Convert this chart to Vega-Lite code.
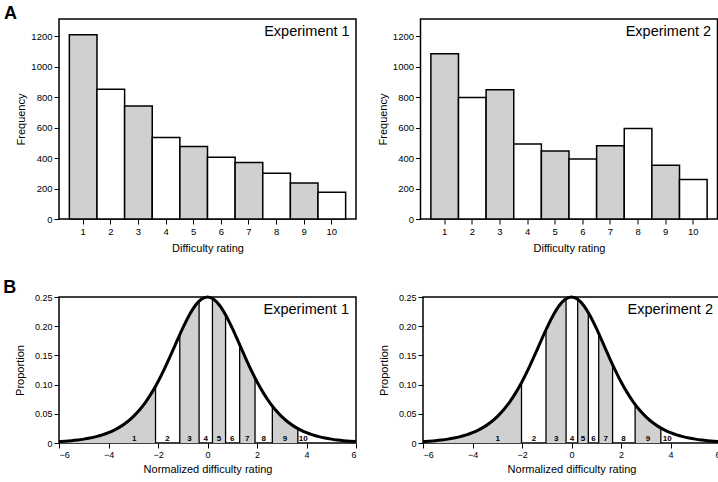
{
  "$schema": "https://vega.github.io/schema/vega-lite/v6.json",
  "padding": {"left": 3, "top": 5, "right": 0, "bottom": 0},
  "spacing": 24,
  "config": {
    "font": "Liberation Sans",
    "view": {"stroke": "black", "strokeWidth": 1.5},
    "axis": {"domain": false, "grid": false, "labelOverlap": false, "tickColor": "black", "tickSize": 5, "tickWidth": 1, "labelColor": "black", "labelFont": "Liberation Sans", "labelFontSize": 9, "labelPadding": 2, "titleFont": "Liberation Sans", "titleFontSize": 11, "titleFontWeight": "normal", "titleColor": "black"},
    "title": {"font": "Liberation Sans", "fontSize": 18, "fontWeight": "bold", "anchor": "start", "color": "black"}
  },
  "datasets": {
    "hist": [
      {"exp": "Experiment 1", "rating": 1, "freq": 1211},
      {"exp": "Experiment 1", "rating": 2, "freq": 853},
      {"exp": "Experiment 1", "rating": 3, "freq": 743},
      {"exp": "Experiment 1", "rating": 4, "freq": 535},
      {"exp": "Experiment 1", "rating": 5, "freq": 476},
      {"exp": "Experiment 1", "rating": 6, "freq": 406},
      {"exp": "Experiment 1", "rating": 7, "freq": 371},
      {"exp": "Experiment 1", "rating": 8, "freq": 300},
      {"exp": "Experiment 1", "rating": 9, "freq": 237},
      {"exp": "Experiment 1", "rating": 10, "freq": 175},
      {"exp": "Experiment 2", "rating": 1, "freq": 1086},
      {"exp": "Experiment 2", "rating": 2, "freq": 798},
      {"exp": "Experiment 2", "rating": 3, "freq": 849},
      {"exp": "Experiment 2", "rating": 4, "freq": 493},
      {"exp": "Experiment 2", "rating": 5, "freq": 447},
      {"exp": "Experiment 2", "rating": 6, "freq": 395},
      {"exp": "Experiment 2", "rating": 7, "freq": 482},
      {"exp": "Experiment 2", "rating": 8, "freq": 594},
      {"exp": "Experiment 2", "rating": 9, "freq": 353},
      {"exp": "Experiment 2", "rating": 10, "freq": 259}
    ],
    "panels": [{"exp": "Experiment 1"}, {"exp": "Experiment 2"}],
    "curve": [
      {"x": -6, "y": 0.002467}, {"x": -5.75, "y": 0.003163}, {"x": -5.5, "y": 0.004054}, {"x": -5.25, "y": 0.005193},
      {"x": -5, "y": 0.006648}, {"x": -4.75, "y": 0.008504}, {"x": -4.5, "y": 0.010866}, {"x": -4.25, "y": 0.013866},
      {"x": -4, "y": 0.017663}, {"x": -3.75, "y": 0.02245}, {"x": -3.5, "y": 0.028453}, {"x": -3.25, "y": 0.035933},
      {"x": -3, "y": 0.045177}, {"x": -2.75, "y": 0.056477}, {"x": -2.5, "y": 0.070103}, {"x": -2.25, "y": 0.086259},
      {"x": -2, "y": 0.104994}, {"x": -1.75, "y": 0.126129}, {"x": -1.5, "y": 0.149146}, {"x": -1.25, "y": 0.173104},
      {"x": -1, "y": 0.196612}, {"x": -0.75, "y": 0.217895}, {"x": -0.5, "y": 0.235004}, {"x": -0.25, "y": 0.246134},
      {"x": 0, "y": 0.25},
      {"x": 0.25, "y": 0.246134}, {"x": 0.5, "y": 0.235004}, {"x": 0.75, "y": 0.217895}, {"x": 1, "y": 0.196612},
      {"x": 1.25, "y": 0.173104}, {"x": 1.5, "y": 0.149146}, {"x": 1.75, "y": 0.126129}, {"x": 2, "y": 0.104994},
      {"x": 2.25, "y": 0.086259}, {"x": 2.5, "y": 0.070103}, {"x": 2.75, "y": 0.056477}, {"x": 3, "y": 0.045177},
      {"x": 3.25, "y": 0.035933}, {"x": 3.5, "y": 0.028453}, {"x": 3.75, "y": 0.02245}, {"x": 4, "y": 0.017663},
      {"x": 4.25, "y": 0.013866}, {"x": 4.5, "y": 0.010866}, {"x": 4.75, "y": 0.008504}, {"x": 5, "y": 0.006648},
      {"x": 5.25, "y": 0.005193}, {"x": 5.5, "y": 0.004054}, {"x": 5.75, "y": 0.003163}, {"x": 6, "y": 0.002467}
    ],
    "seg": [
      {"exp": "Experiment 1", "seg": "s1", "x": -6, "y": 0.002467}, {"exp": "Experiment 1", "seg": "s1", "x": -5.75, "y": 0.003163},
      {"exp": "Experiment 1", "seg": "s1", "x": -5.5, "y": 0.004054}, {"exp": "Experiment 1", "seg": "s1", "x": -5.25, "y": 0.005193},
      {"exp": "Experiment 1", "seg": "s1", "x": -5, "y": 0.006648}, {"exp": "Experiment 1", "seg": "s1", "x": -4.75, "y": 0.008504},
      {"exp": "Experiment 1", "seg": "s1", "x": -4.5, "y": 0.010866}, {"exp": "Experiment 1", "seg": "s1", "x": -4.25, "y": 0.013866},
      {"exp": "Experiment 1", "seg": "s1", "x": -4, "y": 0.017663}, {"exp": "Experiment 1", "seg": "s1", "x": -3.75, "y": 0.02245},
      {"exp": "Experiment 1", "seg": "s1", "x": -3.5, "y": 0.028453}, {"exp": "Experiment 1", "seg": "s1", "x": -3.25, "y": 0.035933},
      {"exp": "Experiment 1", "seg": "s1", "x": -3, "y": 0.045177}, {"exp": "Experiment 1", "seg": "s1", "x": -2.75, "y": 0.056477},
      {"exp": "Experiment 1", "seg": "s1", "x": -2.5, "y": 0.070103}, {"exp": "Experiment 1", "seg": "s1", "x": -2.25, "y": 0.086259},
      {"exp": "Experiment 1", "seg": "s1", "x": -2.1, "y": 0.097195},
      {"exp": "Experiment 1", "seg": "s3", "x": -1.12, "y": 0.18549}, {"exp": "Experiment 1", "seg": "s3", "x": -1, "y": 0.196612},
      {"exp": "Experiment 1", "seg": "s3", "x": -0.75, "y": 0.217895}, {"exp": "Experiment 1", "seg": "s3", "x": -0.5, "y": 0.235004},
      {"exp": "Experiment 1", "seg": "s3", "x": -0.34, "y": 0.242912},
      {"exp": "Experiment 1", "seg": "s5", "x": 0.2, "y": 0.247517}, {"exp": "Experiment 1", "seg": "s5", "x": 0.25, "y": 0.246134},
      {"exp": "Experiment 1", "seg": "s5", "x": 0.5, "y": 0.235004}, {"exp": "Experiment 1", "seg": "s5", "x": 0.73, "y": 0.219443},
      {"exp": "Experiment 1", "seg": "s7", "x": 1.3, "y": 0.168299}, {"exp": "Experiment 1", "seg": "s7", "x": 1.5, "y": 0.149146},
      {"exp": "Experiment 1", "seg": "s7", "x": 1.75, "y": 0.126129}, {"exp": "Experiment 1", "seg": "s7", "x": 1.92, "y": 0.111514},
      {"exp": "Experiment 1", "seg": "s9", "x": 2.62, "y": 0.063258}, {"exp": "Experiment 1", "seg": "s9", "x": 2.75, "y": 0.056477},
      {"exp": "Experiment 1", "seg": "s9", "x": 3, "y": 0.045177}, {"exp": "Experiment 1", "seg": "s9", "x": 3.25, "y": 0.035933},
      {"exp": "Experiment 1", "seg": "s9", "x": 3.5, "y": 0.028453}, {"exp": "Experiment 1", "seg": "s9", "x": 3.65, "y": 0.02469},
      {"exp": "Experiment 2", "seg": "s1", "x": -6, "y": 0.002467}, {"exp": "Experiment 2", "seg": "s1", "x": -5.75, "y": 0.003163},
      {"exp": "Experiment 2", "seg": "s1", "x": -5.5, "y": 0.004054}, {"exp": "Experiment 2", "seg": "s1", "x": -5.25, "y": 0.005193},
      {"exp": "Experiment 2", "seg": "s1", "x": -5, "y": 0.006648}, {"exp": "Experiment 2", "seg": "s1", "x": -4.75, "y": 0.008504},
      {"exp": "Experiment 2", "seg": "s1", "x": -4.5, "y": 0.010866}, {"exp": "Experiment 2", "seg": "s1", "x": -4.25, "y": 0.013866},
      {"exp": "Experiment 2", "seg": "s1", "x": -4, "y": 0.017663}, {"exp": "Experiment 2", "seg": "s1", "x": -3.75, "y": 0.02245},
      {"exp": "Experiment 2", "seg": "s1", "x": -3.5, "y": 0.028453}, {"exp": "Experiment 2", "seg": "s1", "x": -3.25, "y": 0.035933},
      {"exp": "Experiment 2", "seg": "s1", "x": -3, "y": 0.045177}, {"exp": "Experiment 2", "seg": "s1", "x": -2.75, "y": 0.056477},
      {"exp": "Experiment 2", "seg": "s1", "x": -2.5, "y": 0.070103}, {"exp": "Experiment 2", "seg": "s1", "x": -2.25, "y": 0.086259},
      {"exp": "Experiment 2", "seg": "s1", "x": -2.02, "y": 0.103402},
      {"exp": "Experiment 2", "seg": "s3", "x": -1.03, "y": 0.193871}, {"exp": "Experiment 2", "seg": "s3", "x": -1, "y": 0.196612},
      {"exp": "Experiment 2", "seg": "s3", "x": -0.75, "y": 0.217895}, {"exp": "Experiment 2", "seg": "s3", "x": -0.5, "y": 0.235004},
      {"exp": "Experiment 2", "seg": "s3", "x": -0.22, "y": 0.246999},
      {"exp": "Experiment 2", "seg": "s5", "x": 0.25, "y": 0.246134}, {"exp": "Experiment 2", "seg": "s5", "x": 0.5, "y": 0.235004},
      {"exp": "Experiment 2", "seg": "s5", "x": 0.68, "y": 0.22319},
      {"exp": "Experiment 2", "seg": "s7", "x": 1.1, "y": 0.187369}, {"exp": "Experiment 2", "seg": "s7", "x": 1.25, "y": 0.173104},
      {"exp": "Experiment 2", "seg": "s7", "x": 1.5, "y": 0.149146}, {"exp": "Experiment 2", "seg": "s7", "x": 1.66, "y": 0.134238},
      {"exp": "Experiment 2", "seg": "s9", "x": 2.57, "y": 0.06604}, {"exp": "Experiment 2", "seg": "s9", "x": 2.75, "y": 0.056477},
      {"exp": "Experiment 2", "seg": "s9", "x": 3, "y": 0.045177}, {"exp": "Experiment 2", "seg": "s9", "x": 3.25, "y": 0.035933},
      {"exp": "Experiment 2", "seg": "s9", "x": 3.5, "y": 0.028453}, {"exp": "Experiment 2", "seg": "s9", "x": 3.61, "y": 0.025645}
    ],
    "cuts": [
      {"exp": "Experiment 1", "x": -2.1, "y": 0.097195}, {"exp": "Experiment 1", "x": -1.12, "y": 0.18549},
      {"exp": "Experiment 1", "x": -0.34, "y": 0.242912}, {"exp": "Experiment 1", "x": 0.2, "y": 0.247517},
      {"exp": "Experiment 1", "x": 0.73, "y": 0.219443}, {"exp": "Experiment 1", "x": 1.3, "y": 0.168299},
      {"exp": "Experiment 1", "x": 1.92, "y": 0.111514}, {"exp": "Experiment 1", "x": 2.62, "y": 0.063258},
      {"exp": "Experiment 1", "x": 3.65, "y": 0.02469},
      {"exp": "Experiment 2", "x": -2.02, "y": 0.103402}, {"exp": "Experiment 2", "x": -1.03, "y": 0.193871},
      {"exp": "Experiment 2", "x": -0.22, "y": 0.246999}, {"exp": "Experiment 2", "x": 0.25, "y": 0.246134},
      {"exp": "Experiment 2", "x": 0.68, "y": 0.22319}, {"exp": "Experiment 2", "x": 1.1, "y": 0.187369},
      {"exp": "Experiment 2", "x": 1.66, "y": 0.134238}, {"exp": "Experiment 2", "x": 2.57, "y": 0.06604},
      {"exp": "Experiment 2", "x": 3.61, "y": 0.025645}
    ],
    "labs": [
      {"exp": "Experiment 1", "n": "1", "x": -2.96}, {"exp": "Experiment 1", "n": "2", "x": -1.62},
      {"exp": "Experiment 1", "n": "3", "x": -0.73}, {"exp": "Experiment 1", "n": "4", "x": -0.07},
      {"exp": "Experiment 1", "n": "5", "x": 0.46}, {"exp": "Experiment 1", "n": "6", "x": 1.0},
      {"exp": "Experiment 1", "n": "7", "x": 1.6}, {"exp": "Experiment 1", "n": "8", "x": 2.27},
      {"exp": "Experiment 1", "n": "9", "x": 3.13}, {"exp": "Experiment 1", "n": "10", "x": 3.87},
      {"exp": "Experiment 2", "n": "1", "x": -2.98}, {"exp": "Experiment 2", "n": "2", "x": -1.52},
      {"exp": "Experiment 2", "n": "3", "x": -0.62}, {"exp": "Experiment 2", "n": "4", "x": 0.02},
      {"exp": "Experiment 2", "n": "5", "x": 0.46}, {"exp": "Experiment 2", "n": "6", "x": 0.89},
      {"exp": "Experiment 2", "n": "7", "x": 1.38}, {"exp": "Experiment 2", "n": "8", "x": 2.1},
      {"exp": "Experiment 2", "n": "9", "x": 3.09}, {"exp": "Experiment 2", "n": "10", "x": 3.87}
    ]
  },
  "vconcat": [
    {
      "title": {"text": "A", "dx": -11, "dy": 5, "offset": 0},
      "spacing": 19.5,
      "hconcat": [
        {
          "width": 297, "height": 200,
          "layer": [
            {
              "data": {"name": "hist"},
              "transform": [{"filter": "datum.exp == 'Experiment 1'"}],
              "mark": {"type": "bar", "stroke": "black", "strokeWidth": 1.5},
              "encoding": {
                "x": {"field": "rating", "type": "ordinal", "sort": "ascending", "scale": {"paddingInner": 0, "paddingOuter": 0.375}, "axis": {"title": "Difficulty rating", "labelAngle": 0, "labelFontSize": 9.5, "labelOverlap": false, "titlePadding": 7}},
                "y": {"field": "freq", "type": "quantitative", "scale": {"domain": [0, 1314], "nice": false}, "axis": {"title": "Frequency", "values": [0, 200, 400, 600, 800, 1000, 1200], "tickCount": 20, "format": "d", "labelFontSize": 9.5, "labelOverlap": false, "titlePadding": 4}},
                "fill": {"condition": {"test": "datum.rating % 2 == 1", "value": "#d0d0d0"}, "value": "white"}
              }
            },
            {
              "data": {"name": "panels"},
              "transform": [{"filter": "datum.exp == 'Experiment 1'"}],
              "mark": {"type": "text", "align": "right", "baseline": "top", "fontSize": 14.5, "dx": 4, "dy": 6, "color": "black"},
              "encoding": {
                "x": {"datum": 10, "type": "ordinal", "bandPosition": 1},
                "y": {"datum": 1314, "type": "quantitative"},
                "text": {"field": "exp"}
              }
            }
          ]
        },
        {
          "width": 297, "height": 200,
          "layer": [
            {
              "data": {"name": "hist"},
              "transform": [{"filter": "datum.exp == 'Experiment 2'"}],
              "mark": {"type": "bar", "stroke": "black", "strokeWidth": 1.5},
              "encoding": {
                "x": {"field": "rating", "type": "ordinal", "sort": "ascending", "scale": {"paddingInner": 0, "paddingOuter": 0.375}, "axis": {"title": "Difficulty rating", "labelAngle": 0, "labelFontSize": 9.5, "labelOverlap": false, "titlePadding": 7}},
                "y": {"field": "freq", "type": "quantitative", "scale": {"domain": [0, 1314], "nice": false}, "axis": {"title": "Frequency", "values": [0, 200, 400, 600, 800, 1000, 1200], "tickCount": 20, "format": "d", "labelFontSize": 9.5, "labelOverlap": false, "titlePadding": 4}},
                "fill": {"condition": {"test": "datum.rating % 2 == 1", "value": "#d0d0d0"}, "value": "white"}
              }
            },
            {
              "data": {"name": "panels"},
              "transform": [{"filter": "datum.exp == 'Experiment 2'"}],
              "mark": {"type": "text", "align": "right", "baseline": "top", "fontSize": 14.5, "dx": 4, "dy": 6, "color": "black"},
              "encoding": {
                "x": {"datum": 10, "type": "ordinal", "bandPosition": 1},
                "y": {"datum": 1314, "type": "quantitative"},
                "text": {"field": "exp"}
              }
            }
          ]
        }
      ]
    },
    {
      "title": {"text": "B", "dx": -11, "dy": 12, "offset": 5},
      "spacing": 15,
      "hconcat": [
        {
          "width": 297, "height": 146,
          "layer": [
            {
              "data": {"name": "seg"},
              "transform": [{"filter": "datum.exp == 'Experiment 1'"}],
              "mark": {"type": "area", "color": "#d0d0d0", "interpolate": "monotone"},
              "encoding": {
                "x": {"field": "x", "type": "quantitative", "scale": {"domain": [-6, 6], "nice": false}, "axis": {"title": "Normalized difficulty rating", "values": [-6, -4, -2, 0, 2, 4, 6], "tickCount": 20, "format": "d", "labelOverlap": false, "titlePadding": 4}},
                "y": {"field": "y", "type": "quantitative", "stack": null, "scale": {"domain": [0, 0.25], "nice": false}, "axis": {"title": "Proportion", "values": [0, 0.05, 0.1, 0.15, 0.2, 0.25], "tickCount": 20, "labelOverlap": false, "labelExpr": "datum.value == 0 ? '0' : format(datum.value, '.2f')", "titlePadding": 8.5}},
                "detail": {"field": "seg", "type": "nominal"}
              }
            },
            {
              "data": {"name": "cuts"},
              "transform": [{"filter": "datum.exp == 'Experiment 1'"}],
              "mark": {"type": "rule", "color": "black", "strokeWidth": 1.3},
              "encoding": {
                "x": {"field": "x", "type": "quantitative", "axis": {"title": "Normalized difficulty rating", "values": [-6, -4, -2, 0, 2, 4, 6], "tickCount": 20, "format": "d", "labelOverlap": false, "titlePadding": 4}},
                "y": {"field": "y", "type": "quantitative", "axis": {"title": "Proportion", "values": [0, 0.05, 0.1, 0.15, 0.2, 0.25], "tickCount": 20, "labelOverlap": false, "labelExpr": "datum.value == 0 ? '0' : format(datum.value, '.2f')", "titlePadding": 8.5}},
                "y2": {"datum": 0}
              }
            },
            {
              "data": {"name": "curve"},
              "mark": {"type": "line", "color": "black", "strokeWidth": 3, "interpolate": "monotone"},
              "encoding": {
                "x": {"field": "x", "type": "quantitative", "axis": {"title": "Normalized difficulty rating", "values": [-6, -4, -2, 0, 2, 4, 6], "tickCount": 20, "format": "d", "labelOverlap": false, "titlePadding": 4}},
                "y": {"field": "y", "type": "quantitative", "axis": {"title": "Proportion", "values": [0, 0.05, 0.1, 0.15, 0.2, 0.25], "tickCount": 20, "labelOverlap": false, "labelExpr": "datum.value == 0 ? '0' : format(datum.value, '.2f')", "titlePadding": 8.5}}
              }
            },
            {
              "data": {"name": "labs"},
              "transform": [{"filter": "datum.exp == 'Experiment 1'"}],
              "mark": {"type": "text", "fontSize": 8, "fontWeight": "bold", "baseline": "alphabetic", "dy": -2, "color": "black"},
              "encoding": {
                "x": {"field": "x", "type": "quantitative", "axis": {"title": "Normalized difficulty rating", "values": [-6, -4, -2, 0, 2, 4, 6], "tickCount": 20, "format": "d", "labelOverlap": false, "titlePadding": 4}},
                "y": {"datum": 0, "type": "quantitative"},
                "text": {"field": "n", "type": "nominal"}
              }
            },
            {
              "data": {"name": "panels"},
              "transform": [{"filter": "datum.exp == 'Experiment 1'"}],
              "mark": {"type": "text", "align": "right", "baseline": "top", "fontSize": 14.5, "dx": -7, "dy": 6, "color": "black"},
              "encoding": {"x": {"datum": 6, "type": "quantitative"}, "y": {"datum": 0.25, "type": "quantitative"}, "text": {"field": "exp", "type": "nominal"}}
            }
          ]
        },
        {
          "width": 297, "height": 146,
          "layer": [
            {
              "data": {"name": "seg"},
              "transform": [{"filter": "datum.exp == 'Experiment 2'"}],
              "mark": {"type": "area", "color": "#d0d0d0", "interpolate": "monotone"},
              "encoding": {
                "x": {"field": "x", "type": "quantitative", "scale": {"domain": [-6, 6], "nice": false}, "axis": {"title": "Normalized difficulty rating", "values": [-6, -4, -2, 0, 2, 4, 6], "tickCount": 20, "format": "d", "labelOverlap": false, "titlePadding": 4}},
                "y": {"field": "y", "type": "quantitative", "stack": null, "scale": {"domain": [0, 0.25], "nice": false}, "axis": {"title": "Proportion", "values": [0, 0.05, 0.1, 0.15, 0.2, 0.25], "tickCount": 20, "labelOverlap": false, "labelExpr": "datum.value == 0 ? '0' : format(datum.value, '.2f')", "titlePadding": 8.5}},
                "detail": {"field": "seg", "type": "nominal"}
              }
            },
            {
              "data": {"name": "cuts"},
              "transform": [{"filter": "datum.exp == 'Experiment 2'"}],
              "mark": {"type": "rule", "color": "black", "strokeWidth": 1.3},
              "encoding": {
                "x": {"field": "x", "type": "quantitative", "axis": {"title": "Normalized difficulty rating", "values": [-6, -4, -2, 0, 2, 4, 6], "tickCount": 20, "format": "d", "labelOverlap": false, "titlePadding": 4}},
                "y": {"field": "y", "type": "quantitative", "axis": {"title": "Proportion", "values": [0, 0.05, 0.1, 0.15, 0.2, 0.25], "tickCount": 20, "labelOverlap": false, "labelExpr": "datum.value == 0 ? '0' : format(datum.value, '.2f')", "titlePadding": 8.5}},
                "y2": {"datum": 0}
              }
            },
            {
              "data": {"name": "curve"},
              "mark": {"type": "line", "color": "black", "strokeWidth": 3, "interpolate": "monotone"},
              "encoding": {
                "x": {"field": "x", "type": "quantitative", "axis": {"title": "Normalized difficulty rating", "values": [-6, -4, -2, 0, 2, 4, 6], "tickCount": 20, "format": "d", "labelOverlap": false, "titlePadding": 4}},
                "y": {"field": "y", "type": "quantitative", "axis": {"title": "Proportion", "values": [0, 0.05, 0.1, 0.15, 0.2, 0.25], "tickCount": 20, "labelOverlap": false, "labelExpr": "datum.value == 0 ? '0' : format(datum.value, '.2f')", "titlePadding": 8.5}}
              }
            },
            {
              "data": {"name": "labs"},
              "transform": [{"filter": "datum.exp == 'Experiment 2'"}],
              "mark": {"type": "text", "fontSize": 8, "fontWeight": "bold", "baseline": "alphabetic", "dy": -2, "color": "black"},
              "encoding": {
                "x": {"field": "x", "type": "quantitative", "axis": {"title": "Normalized difficulty rating", "values": [-6, -4, -2, 0, 2, 4, 6], "tickCount": 20, "format": "d", "labelOverlap": false, "titlePadding": 4}},
                "y": {"datum": 0, "type": "quantitative"},
                "text": {"field": "n", "type": "nominal"}
              }
            },
            {
              "data": {"name": "panels"},
              "transform": [{"filter": "datum.exp == 'Experiment 2'"}],
              "mark": {"type": "text", "align": "right", "baseline": "top", "fontSize": 14.5, "dx": -7, "dy": 6, "color": "black"},
              "encoding": {"x": {"datum": 6, "type": "quantitative"}, "y": {"datum": 0.25, "type": "quantitative"}, "text": {"field": "exp", "type": "nominal"}}
            }
          ]
        }
      ]
    }
  ]
}
